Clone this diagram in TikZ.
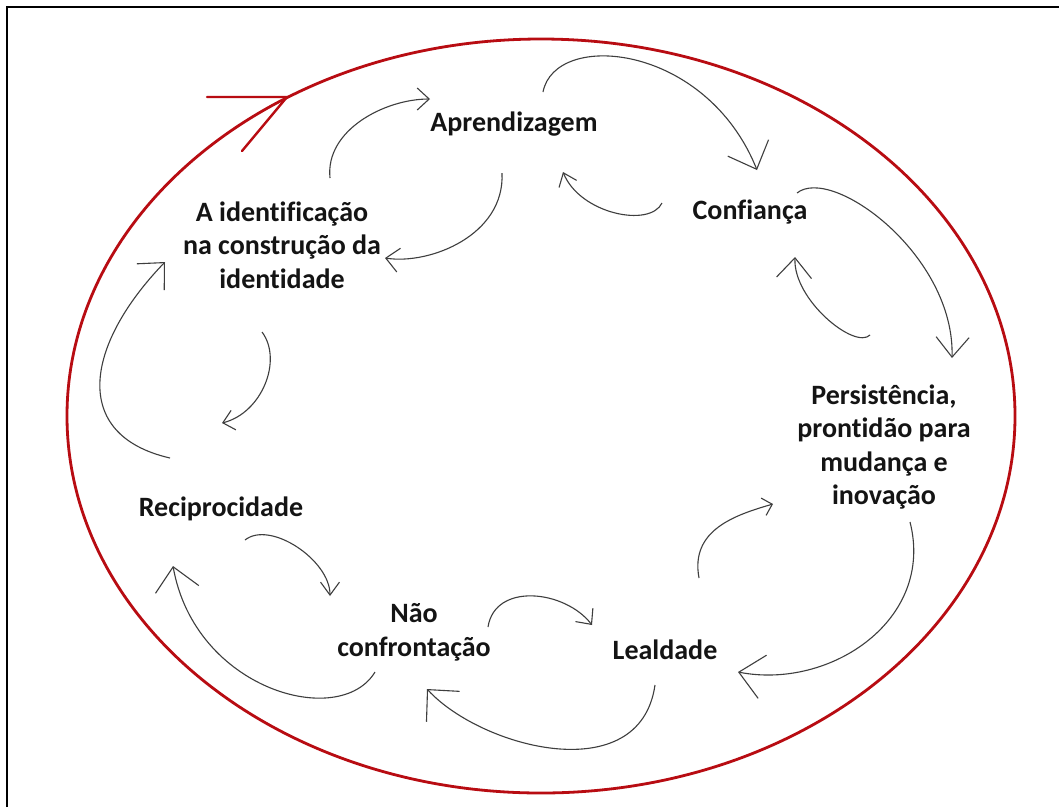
\documentclass[tikz,border=0pt]{standalone}
\usepackage{fontspec}
\setmainfont{Carlito}[Ligatures=NoCommon]
\usetikzlibrary{arrows.meta}
\definecolor{ringred}{RGB}{184,12,18}
\definecolor{flowgray}{RGB}{62,62,62}
\begin{document}
\begin{tikzpicture}[x=1pt,y=-1pt,
  stage/.style={font=\bfseries\fontsize{28}{33.6}\selectfont, align=center, inner sep=0pt, text=black!92},
  flow/.style={draw=flowgray, line width=1.1pt},
  barb/.style 2 args={-{Straight Barb[length=#1,width=#2]}},
  ring/.style={draw=ringred, line width=2.8pt}]
\useasboundingbox (0,0) rectangle (1059,807);
\fill[white] (0,0) rectangle (1059,807);

% outer frame (top and left edges)
\draw[line width=2.8pt] (7,807) -- (7,7) -- (1059,7);

% the red cycle and its direction mark
\draw[ring] (541,416) ellipse [x radius=474, y radius=377];
\coordinate (rtip) at (287,97);
\coordinate (rwingA) at (207,97);
\coordinate (rwingB) at (242,151);
\draw[ring, line width=2.4pt, line cap=round] (rwingA) -- (rtip) -- (rwingB);

% stages
\node[stage] (apr)   at (514,124) {Aprendizagem};
\node[stage] (conf)  at (750,212) {Confiança};
\node[stage] (ident) at (282,245) {A identificação\\na construção da\\identidade};
\node[stage] (pers)  at (884,447) {Persistência,\\prontidão para\\mudança e\\inovação};
\node[stage] (recip) at (221,509) {Reciprocidade};
\node[stage] (nao)   at (414,632) {Não\\confrontação};
\node[stage] (leal)  at (665,650) {Lealdade};

% end points of the curved arrows
\coordinate (a1s) at (330,178);  \coordinate (a1e) at (430,99);
\coordinate (a2s) at (543,92);   \coordinate (a2e) at (757,170);
\coordinate (a3s) at (662,203);  \coordinate (a3e) at (563,172);
\coordinate (a4s) at (502,173);  \coordinate (a4e) at (385,258);
\coordinate (a5s) at (797,193);  \coordinate (a5e) at (952,358);
\coordinate (a6s) at (870,335);  \coordinate (a6e) at (795,257);
\coordinate (a7s) at (262,332);  \coordinate (a7e) at (222,423);
\coordinate (a8s) at (170,458);  \coordinate (a8e) at (165,262);
\coordinate (a9s) at (245,540);  \coordinate (a9e) at (330,596);
\coordinate (a10s) at (375,672); \coordinate (a10e) at (173,566);
\coordinate (a11s) at (488,627); \coordinate (a11e) at (592,625);
\coordinate (a12s) at (655,685); \coordinate (a12e) at (427,689);
\coordinate (a13s) at (699,578); \coordinate (a13e) at (773,504);
\coordinate (a14s) at (910,522); \coordinate (a14e) at (738,672);

% curved arrows between the stages
\draw[flow, barb={12pt}{22pt}] (a1s) .. controls +(-5,-48) and +(-45,0) .. (a1e);
\draw[flow, barb={23pt}{44pt}] (a2s) .. controls +(12,-62) and +(-51,-127) .. (a2e);
\draw[flow, barb={12pt}{19pt}] (a3s) .. controls +(-12,25) and +(17,42) .. (a3e);
\draw[flow, barb={13pt}{24pt}] (a4s) .. controls +(3,62) and +(45,7) .. (a4e);
\draw[flow, barb={20pt}{33pt}] (a5s) .. controls +(35,-28) and +(3,-103) .. (a5e);
\draw[flow, barb={20pt}{35pt}] (a6s) .. controls +(-15,15) and +(-2,43) .. (a6e);
\draw[flow, barb={11pt}{20pt}] (a7s) .. controls +(21,28) and +(40,-10) .. (a7e);
\draw[flow, barb={20pt}{38pt}] (a8s) .. controls +(-100,-23) and +(-80,83) .. (a8e);
\draw[flow, barb={13pt}{19pt}] (a9s) .. controls +(25,-20) and +(0,-36) .. (a9e);
\draw[flow, barb={23pt}{44pt}] (a10s) .. controls +(-35,58) and +(22,124) .. (a10e);
\draw[flow, barb={12pt}{22pt}] (a11s) .. controls +(7,-45) and +(-27,-35) .. (a11e);
\draw[flow, barb={23pt}{45pt}] (a12s) .. controls +(-15,105) and +(54,59) .. (a12e);
\draw[flow, barb={9pt}{18pt}] (a13s) .. controls +(-9,-48) and +(-38,11) .. (a13e);
\draw[flow, barb={24pt}{44pt}] (a14s) .. controls +(25,98) and +(92,18) .. (a14e);
\end{tikzpicture}
\end{document}
